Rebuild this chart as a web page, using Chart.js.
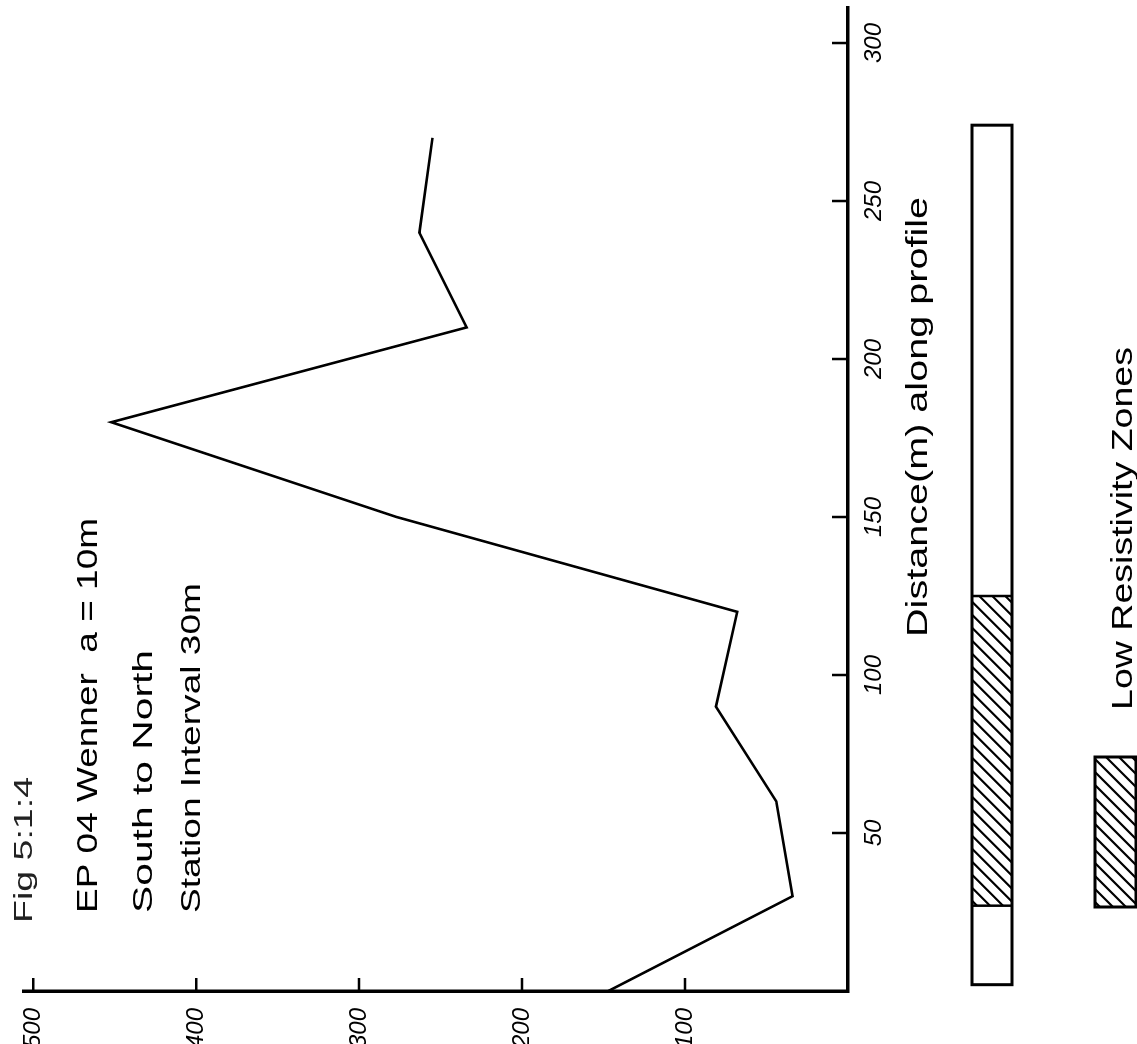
<!DOCTYPE html>
<html><head><meta charset="utf-8">
<script src="https://cdn.jsdelivr.net/npm/chart.js@4.4.0/dist/chart.umd.min.js"></script>
<style>
html,body{margin:0;padding:0;background:#fff;overflow:hidden;width:1137px;height:1044px;}
#frame{position:absolute;left:0;top:0;width:1044px;height:1137px;transform-origin:0 0;transform:translate(0px,1044px) rotate(-90deg);background:#fff;}
canvas{display:block;}
</style></head><body>
<div id="frame"><canvas id="c" width="1044" height="1137"></canvas></div>
<script>
// ---- data ----
const distances = [0, 30, 60, 90, 120, 150, 180, 210, 240, 270];          // m along profile
const resistivity = [147, 34, 44, 81, 68, 277, 452, 234, 263, 255];       // apparent resistivity
const distanceTicks = [50, 100, 150, 200, 250, 300];
const resistivityTicks = [100, 200, 300, 400, 500];
const profileExtent = [2, 274];          // ends of the profile bar (m)
const lowZoneStart = [27];               // low resistivity zone starts (m)
const lowZoneEnd = [125];                // low resistivity zone ends (m)
const titleLines = ['Fig 5:1:4', 'EP 04 Wenner  a = 10m', 'South to North', 'Station Interval 30m'];
const axisTitle = 'Distance(m) along profile';
const legendLabel = 'Low Resistivity Zones';

const FONT = '"Liberation Sans", Arial, sans-serif';

function fitText(ctx, text, x, y, w, size, color) {
  ctx.save();
  ctx.font = `normal ${size}px ${FONT}`;
  const m = ctx.measureText(text).width;
  ctx.translate(x, y);
  ctx.scale(w / m, 1);
  ctx.textAlign = 'left';
  ctx.textBaseline = 'alphabetic';
  ctx.fillStyle = color || '#000';
  ctx.fillText(text, 0, 0);
  ctx.restore();
}

function hatchRect(ctx, u0, v0, u1, v1, step) {
  ctx.save();
  ctx.beginPath();
  ctx.rect(u0, v0, u1 - u0, v1 - v0);
  ctx.clip();
  ctx.beginPath();
  for (let c = u0 + v0 - 60; c < u1 + v1 + 60; c += step) {
    ctx.moveTo(c - v0, v0);
    ctx.lineTo(c - v1, v1);
  }
  ctx.lineWidth = 2.2;
  ctx.strokeStyle = '#000';
  ctx.stroke();
  ctx.restore();
}

const decor = {
  id: 'decor',
  afterDraw(chart) {
    const ctx = chart.ctx;
    const xs = chart.scales.x, ys = chart.scales.y;
    const ca = chart.chartArea;
    ctx.save();
    ctx.strokeStyle = '#000';
    ctx.lineWidth = 2.5;
    ctx.lineCap = 'butt';
    // inward tick marks
    ctx.beginPath();
    distanceTicks.forEach(t => {
      const p = xs.getPixelForValue(t);
      ctx.moveTo(p, ca.bottom);
      ctx.lineTo(p, ca.bottom - 16);
    });
    resistivityTicks.forEach(t => {
      const p = ys.getPixelForValue(t);
      ctx.moveTo(ca.left, p);
      ctx.lineTo(ca.left + 13, p);
    });
    ctx.stroke();

    // header text lines
    fitText(ctx, titleLines[0], 121, 32, 146, 26, '#222');
    fitText(ctx, titleLines[1], 131, 97, 395, 30);
    fitText(ctx, titleLines[2], 131, 152, 263, 28);
    fitText(ctx, titleLines[3], 131, 200, 330, 28);

    // axis title
    fitText(ctx, axisTitle, 407, 927, 440, 30);

    // profile bar
    const bv0 = 972, bv1 = 1012;
    const pu0 = xs.getPixelForValue(profileExtent[0]);
    const pu1 = xs.getPixelForValue(profileExtent[1]);
    lowZoneStart.forEach((s, i) => {
      const z0 = xs.getPixelForValue(s), z1 = xs.getPixelForValue(lowZoneEnd[i]);
      hatchRect(ctx, z0, bv0, z1, bv1, 13);
      ctx.beginPath();
      ctx.moveTo(z0, bv0); ctx.lineTo(z0, bv1);
      ctx.moveTo(z1, bv0); ctx.lineTo(z1, bv1);
      ctx.lineWidth = 2.5;
      ctx.stroke();
    });
    ctx.lineWidth = 3;
    ctx.strokeRect(pu0, bv0, pu1 - pu0, bv1 - bv0);

    // legend
    const lu0 = 137, lu1 = 287, lv0 = 1095, lv1 = 1136;
    hatchRect(ctx, lu0, lv0, lu1, lv1, 13);
    ctx.lineWidth = 3;
    ctx.strokeRect(lu0, lv0, lu1 - lu0, lv1 - lv0);
    fitText(ctx, legendLabel, 334, 1132, 363, 30);
    ctx.restore();
  }
};

const points = distances.map((d, i) => ({ x: d, y: resistivity[i] }));

new Chart(document.getElementById('c'), {
  type: 'line',
  data: {
    datasets: [{
      data: points,
      borderColor: '#000',
      borderWidth: 2.6,
      pointRadius: 0,
      tension: 0,
      fill: false
    }]
  },
  options: {
    responsive: false,
    animation: false,
    devicePixelRatio: 1,
    layout: { padding: { left: 0, right: 7, top: 10, bottom: 0 } },
    plugins: { legend: { display: false }, tooltip: { enabled: false }, title: { display: false } },
    scales: {
      x: {
        type: 'linear',
        position: 'bottom',
        min: 0,
        max: 311.4,
        afterBuildTicks: s => { s.ticks = distanceTicks.map(v => ({ value: v })); },
        afterFit: s => { s.height = 289; },
        grid: { display: false },
        border: { display: true, color: '#000', width: 3.5 },
        ticks: {
          color: '#000',
          padding: 4,
          maxRotation: 0,
          minRotation: 0,
          autoSkip: false,
          font: { family: FONT, size: 24, style: 'italic' }
        }
      },
      y: {
        type: 'linear',
        position: 'left',
        min: 0,
        max: 506,
        afterBuildTicks: s => { s.ticks = resistivityTicks.map(v => ({ value: v })); },
        afterFit: s => { s.width = 53; },
        grid: { display: false },
        border: { display: true, color: '#000', width: 3.5 },
        ticks: {
          color: '#000',
          padding: 9,
          autoSkip: false,
          font: { family: FONT, size: 24, style: 'italic' }
        }
      }
    }
  },
  plugins: [decor]
});
</script>
</body></html>
